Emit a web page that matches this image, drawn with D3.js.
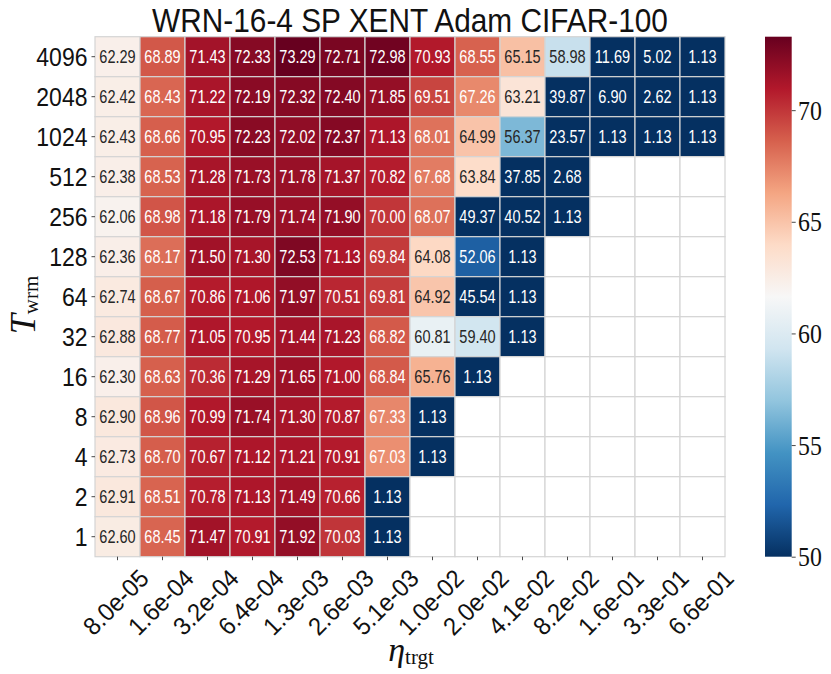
<!DOCTYPE html>
<html><head><meta charset="utf-8">
<script src="https://cdn.jsdelivr.net/npm/d3@7"></script>
<style>body{margin:0;background:#fff}</style>
</head><body>
<svg id="c" width="831" height="674"></svg>
<script>
const title = "WRN-16-4 SP XENT Adam CIFAR-100";
const rowLabels = ["4096","2048","1024","512","256","128","64","32","16","8","4","2","1"];
const colLabels = ["8.0e-05","1.6e-04","3.2e-04","6.4e-04","1.3e-03","2.6e-03","5.1e-03","1.0e-02","2.0e-02","4.1e-02","8.2e-02","1.6e-01","3.3e-01","6.6e-01"];
const row4096 = [62.29,68.89,71.43,72.33,73.29,72.71,72.98,70.93,68.55,65.15,58.98,11.69,5.02,1.13];
const row2048 = [62.42,68.43,71.22,72.19,72.32,72.40,71.85,69.51,67.26,63.21,39.87,6.90,2.62,1.13];
const row1024 = [62.43,68.66,70.95,72.23,72.02,72.37,71.13,68.01,64.99,56.37,23.57,1.13,1.13,1.13];
const row512  = [62.38,68.53,71.28,71.73,71.78,71.37,70.82,67.68,63.84,37.85,2.68];
const row256  = [62.06,68.98,71.18,71.79,71.74,71.90,70.00,68.07,49.37,40.52,1.13];
const row128  = [62.36,68.17,71.50,71.30,72.53,71.13,69.84,64.08,52.06,1.13];
const row64   = [62.74,68.67,70.86,71.06,71.97,70.51,69.81,64.92,45.54,1.13];
const row32   = [62.88,68.77,71.05,70.95,71.44,71.23,68.82,60.81,59.40,1.13];
const row16   = [62.30,68.63,70.36,71.29,71.65,71.00,68.84,65.76,1.13];
const row8    = [62.90,68.96,70.99,71.74,71.30,70.87,67.33,1.13];
const row4    = [62.73,68.70,70.67,71.12,71.21,70.91,67.03,1.13];
const row2    = [62.91,68.51,70.78,71.13,71.49,70.66,1.13];
const row1    = [62.60,68.45,71.47,70.91,71.92,70.03,1.13];
const colorbarTicks = [50,55,60,65,70];

const rows = [row4096,row2048,row1024,row512,row256,row128,row64,row32,row16,row8,row4,row2,row1];

const svg = d3.select("#c");
const X0 = 95, X1 = 725, Y0 = 36.7, Y1 = 556.7;
const x = d3.scaleBand().domain(colLabels).range([X0, X1]);
const y = d3.scaleBand().domain(rowLabels).range([Y0, Y1]);

const vmin = 50, vmax = d3.max(rows.flat());
const rdbu = ["#053061","#2166ac","#4393c3","#92c5de","#d1e5f0","#f7f7f7","#fddbc7","#f4a582","#d6604d","#b2182b","#67001f"];
const color = d3.scaleLinear()
  .domain(d3.range(11).map(i => vmin + (vmax - vmin) * i / 10))
  .range(rdbu).interpolate(d3.interpolateRgb).clamp(true);

function lum(c) {
  const r = d3.rgb(c);
  const f = v => { v /= 255; return v <= 0.03928 ? v / 12.92 : Math.pow((v + 0.055) / 1.055, 2.4); };
  return 0.2126 * f(r.r) + 0.7152 * f(r.g) + 0.0722 * f(r.b);
}

const cells = [];
rowLabels.forEach((rl, i) => colLabels.forEach((cl, j) => {
  const v = rows[i][j];
  cells.push({r: rl, c: cl, v: (v === undefined ? null : v)});
}));

const fmt = d3.format(".2f");
const g = svg.append("g");
g.selectAll("rect").data(cells).join("rect")
  .attr("x", d => x(d.c)).attr("y", d => y(d.r))
  .attr("width", x.bandwidth()).attr("height", y.bandwidth())
  .attr("fill", d => d.v == null ? "#ffffff" : color(d.v))
  .attr("stroke", "#d4d4d4").attr("stroke-width", 1.2);

g.selectAll("g.ann").data(cells.filter(d => d.v != null)).join("g")
  .attr("class", "ann")
  .attr("transform", d => `translate(${x(d.c) + x.bandwidth()/2},${y(d.r) + y.bandwidth()/2})`)
  .append("text")
  .attr("transform", "scale(0.83,1)")
  .attr("text-anchor", "middle").attr("dy", "0.36em")
  .style("font-family", "'Liberation Sans', Arial, sans-serif")
  .style("font-size", "17.5px")
  .attr("fill", d => lum(color(d.v)) > 0.408 ? "#262626" : "#ffffff")
  .text(d => fmt(d.v));

// axes tick marks
const ax = svg.append("g").attr("transform", `translate(0,${Y1})`)
  .call(d3.axisBottom(x).tickSize(3.5).tickFormat(""));
const ay = svg.append("g").attr("transform", `translate(${X0},0)`)
  .call(d3.axisLeft(y).tickSize(3.5).tickFormat(""));
[ax, ay].forEach(a => { a.select(".domain").remove(); a.selectAll("line").attr("stroke", "#333").attr("stroke-width", 0.9); });

// x tick labels
svg.append("g").selectAll("g").data(colLabels).join("g")
  .attr("transform", d => `translate(${x(d) + x.bandwidth()/2 - 2},602) rotate(-45)`)
  .append("text")
  .attr("transform", "scale(0.95,1)")
  .attr("text-anchor", "middle").attr("dy", "0.36em")
  .style("font-family", "'Liberation Sans', Arial, sans-serif").style("font-size", "25px")
  .attr("fill", "#111").text(d => d);

// y tick labels
svg.append("g").selectAll("g").data(rowLabels).join("g")
  .attr("transform", d => `translate(87.5,${y(d) + y.bandwidth()/2})`)
  .append("text")
  .attr("transform", "scale(0.92,1)")
  .attr("text-anchor", "end").attr("dy", "0.36em")
  .style("font-family", "'Liberation Sans', Arial, sans-serif").style("font-size", "25px")
  .attr("fill", "#111").text(d => d);

// title
svg.append("g").attr("transform", "translate(410,31.5)")
  .append("text").attr("transform", "scale(0.877,1)")
  .attr("text-anchor", "middle")
  .style("font-family", "'Liberation Sans', Arial, sans-serif").style("font-size", "34px")
  .attr("fill", "#111").text(title);

// axis labels
const yl = svg.append("text")
  .attr("transform", "translate(35,305) rotate(-90)")
  .attr("text-anchor", "middle")
  .style("font-family", "'Liberation Serif', 'Times New Roman', serif").attr("fill", "#111");
yl.append("tspan").style("font-style", "italic").style("font-size", "36px").text("T");
yl.append("tspan").style("font-size", "21px").attr("dy", 3).text("wrm");

const xl = svg.append("text")
  .attr("transform", "translate(411,661)")
  .attr("text-anchor", "middle")
  .style("font-family", "'Liberation Serif', 'Times New Roman', serif").attr("fill", "#111");
xl.append("tspan").style("font-style", "italic").style("font-size", "34px").text("η");
xl.append("tspan").style("font-size", "21px").attr("dy", 3).text("trgt");

// colorbar
const CBX = 765, CBW = 26.7;
const grad = svg.append("defs").append("linearGradient").attr("id", "cb")
  .attr("x1", 0).attr("y1", 1).attr("x2", 0).attr("y2", 0);
grad.selectAll("stop").data(rdbu).join("stop")
  .attr("offset", (d, i) => i / 10).attr("stop-color", d => d);
svg.append("rect").attr("x", CBX).attr("y", Y0).attr("width", CBW).attr("height", Y1 - Y0)
  .attr("fill", "url(#cb)");
const cbScale = d3.scaleLinear().domain([vmin, vmax]).range([Y1, Y0]);
const cba = svg.append("g").attr("transform", `translate(${CBX + CBW},0)`)
  .call(d3.axisRight(cbScale).tickValues(colorbarTicks).tickSize(4).tickFormat(""));
cba.select(".domain").remove();
cba.selectAll("line").attr("stroke", "#333").attr("stroke-width", 0.9);
svg.append("g").selectAll("g").data(colorbarTicks).join("g")
  .attr("transform", d => `translate(798,${cbScale(d)})`)
  .append("text").attr("transform", "scale(0.85,1)")
  .attr("dy", "0.34em")
  .style("font-family", "'Liberation Serif', 'Times New Roman', serif").style("font-size", "28px")
  .attr("fill", "#111").text(d => d);
</script>
</body></html>
